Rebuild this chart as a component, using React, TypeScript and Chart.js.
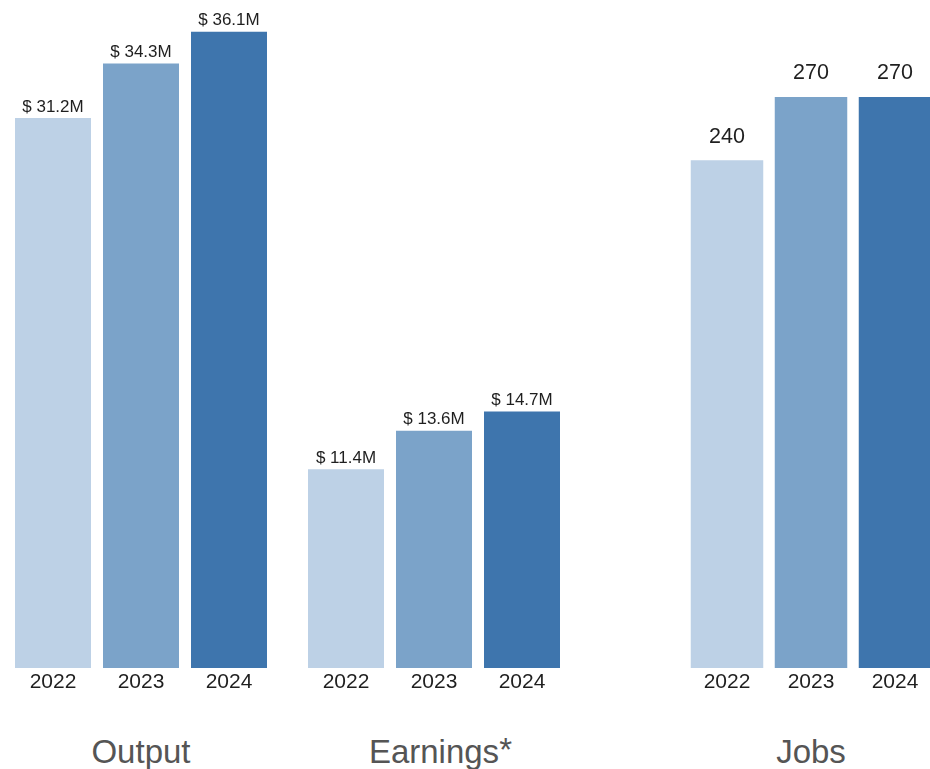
import React, { useEffect, useRef } from "react";
import { Chart, registerables } from "chart.js";

Chart.register(...registerables);

const years = ["2022", "2023", "2024"];
const outputValues = [31.2, 34.3, 36.1];
const earningsValues = [11.4, 13.6, 14.7];
const jobsValues = [240, 270, 270];
const panelTitles = ["Output", "Earnings", "Jobs"];
const barColors = ["#bdd1e6", "#7ba3c9", "#3e75ad"];

const FONT = "'Liberation Sans', Arial, Helvetica, sans-serif";

type PanelProps = {
  values: number[];
  yMax: number;
  left: number;
  width: number;
  barPct: number;
  labelFmt: (v: number) => string;
  labelSize: number;
  labelGap: number;
};

function Panel({ values, yMax, left, width, barPct, labelFmt, labelSize, labelGap }: PanelProps) {
  const ref = useRef<HTMLCanvasElement | null>(null);
  useEffect(() => {
    if (!ref.current) return;
    const labelPlugin = {
      id: "valueLabels",
      afterDatasetsDraw(chart: any) {
        const ctx = chart.ctx;
        const meta = chart.getDatasetMeta(0);
        ctx.save();
        ctx.font = `${labelSize}px ${FONT}`;
        ctx.fillStyle = "#1f1f1f";
        ctx.textAlign = "center";
        ctx.textBaseline = "alphabetic";
        meta.data.forEach((el: any, i: number) => {
          ctx.fillText(labelFmt(values[i]), el.x, el.y - labelGap);
        });
        ctx.restore();
      },
    };
    const chart = new Chart(ref.current, {
      type: "bar",
      data: {
        labels: years,
        datasets: [
          {
            data: values,
            backgroundColor: barColors,
            borderWidth: 0,
            categoryPercentage: 1,
            barPercentage: barPct,
          },
        ],
      },
      options: {
        animation: false,
        responsive: false,
        devicePixelRatio: 1,
        layout: { padding: 0 },
        plugins: { legend: { display: false }, tooltip: { enabled: false }, title: { display: false } },
        scales: {
          x: {
            grid: { display: false, drawTicks: false },
            border: { display: false },
            ticks: { color: "#1f1f1f", font: { family: FONT, size: 21 }, padding: 2 },
            afterFit: (scale: any) => {
              scale.height = 50;
            },
          },
          y: { display: false, min: 0, max: yMax },
        },
      },
      plugins: [labelPlugin],
    });
    return () => chart.destroy();
  }, []);
  return (
    <canvas
      ref={ref}
      width={width}
      height={718}
      style={{ position: "absolute", left, top: 0, width, height: 718 }}
    />
  );
}

const titleStyle: React.CSSProperties = {
  position: "absolute",
  top: 735,
  height: 34,
  lineHeight: "34px",
  fontSize: 33,
  fontFamily: FONT,
  color: "#555555",
  textAlign: "center",
};

export default function App() {
  return (
    <div
      style={{
        position: "fixed",
        left: 0,
        top: 0,
        width: 930,
        height: 769,
        overflow: "hidden",
        background: "#ffffff",
      }}
    >
      <Panel
        values={outputValues}
        yMax={37.9}
        left={9}
        width={264}
        barPct={76 / 88}
        labelFmt={(v) => `$ ${v.toFixed(1)}M`}
        labelSize={17}
        labelGap={6.5}
      />
      <Panel
        values={earningsValues}
        yMax={38.3}
        left={302}
        width={264}
        barPct={76 / 88}
        labelFmt={(v) => `$ ${v.toFixed(1)}M`}
        labelSize={17}
        labelGap={6.5}
      />
      <Panel
        values={jobsValues}
        yMax={315.8}
        left={685}
        width={252}
        barPct={72.5 / 84}
        labelFmt={(v) => `${v}`}
        labelSize={21.5}
        labelGap={17.5}
      />
      <div style={{ ...titleStyle, left: 9, width: 264 }}>{panelTitles[0]}</div>
      <div style={{ ...titleStyle, left: 302, width: 264 }}>
        <span style={{ position: "relative" }}>
          {panelTitles[1]}
          <span style={{ position: "absolute", left: "100%", top: 0 }}>*</span>
        </span>
      </div>
      <div style={{ ...titleStyle, left: 685, width: 252 }}>{panelTitles[2]}</div>
    </div>
  );
}
